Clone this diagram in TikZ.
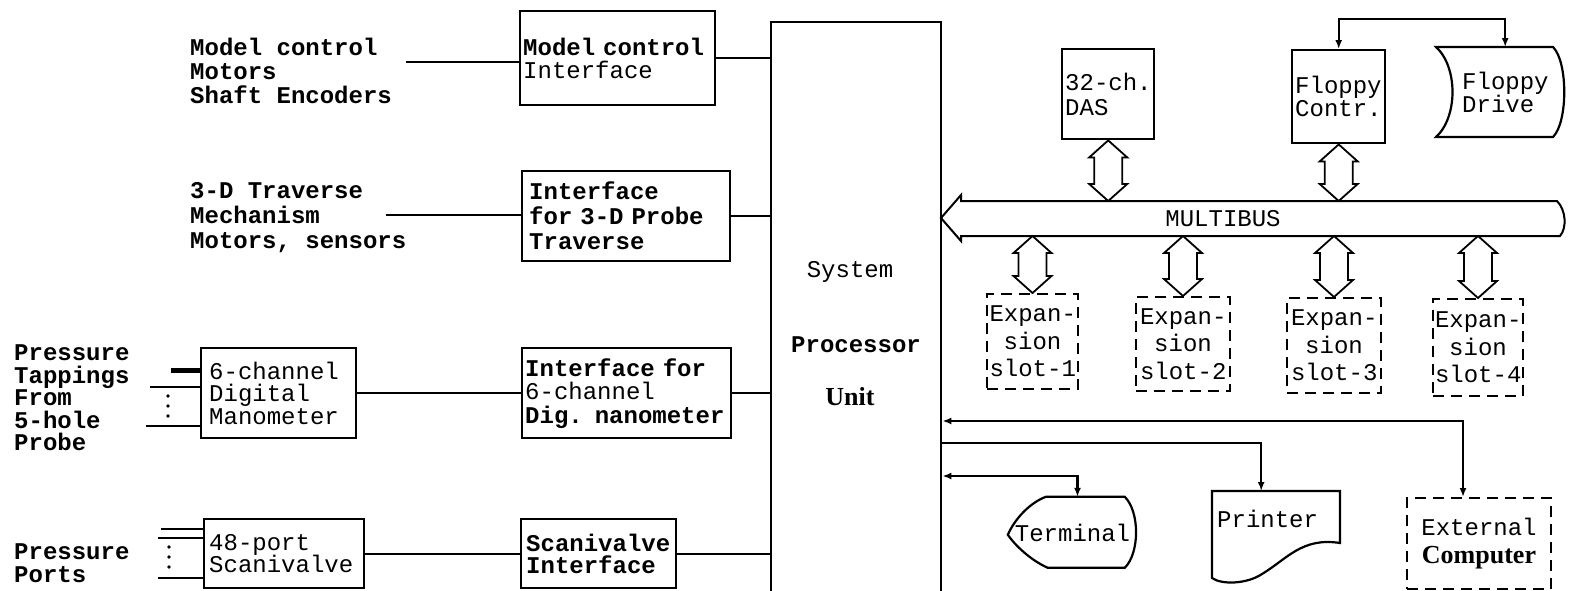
\documentclass[tikz,border=0pt]{standalone}
\usepackage{fontspec}
\setmainfont{Liberation Serif}
\setmonofont{Liberation Mono}
\usetikzlibrary{arrows.meta,calc}

\newcommand{\fsz}[1]{\fontsize{24}{#1}\selectfont}
% hollow double arrow between bus and a box
\newcommand{\dblarr}[2]{%
  \draw[busline] let \p1=(#1), \p2=(#2) in
    (\x1,\y1) -- (\x1+19pt,\y1-17pt) -- (\x1+14pt,\y1-17pt) -- (\x1+14pt,\y2+17pt)
    -- (\x1+19pt,\y2+17pt) -- (\x1,\y2) -- (\x1-19pt,\y2+17pt) -- (\x1-14pt,\y2+17pt)
    -- (\x1-14pt,\y1-17pt) -- (\x1-19pt,\y1-17pt) -- cycle;}

\tikzset{
  wire/.style={line width=2.2pt},
  busline/.style={line width=1.8pt, line join=miter},
  box/.style={draw, line width=2.4pt, anchor=north west, align=left, inner ysep=0pt},
  slotbox/.style={draw, line width=2pt, dash pattern=on 11pt off 7pt, anchor=north west,
    align=center, inner sep=0pt, text width=86pt, font=\ttfamily\fsz{27.5}},
  lbl/.style={anchor=west, align=left, inner sep=0pt},
  >={Latex[length=9pt,width=7pt]},
}

\begin{document}
\begin{tikzpicture}[x=1pt,y=-1pt]
	\useasboundingbox (0,0) rectangle (1570,590);

	% left hand side: sources and interfaces
	\node[lbl, font=\ttfamily\bfseries\fsz{24}] (mctxt) at (190,71) {Model control\\Motors\\Shaft Encoders};
	\node[lbl, font=\ttfamily\bfseries\fsz{25}] (trtxt) at (190,218) {3-D Traverse\\Mechanism\\Motors, sensors};
	\node[lbl, font=\ttfamily\bfseries\fsz{22.5}] (taptxt) at (14,398) {Pressure\\Tappings\\From\\5-hole\\Probe};
	\node[lbl, font=\ttfamily\bfseries\fsz{22.5}] (porttxt) at (14,563) {Pressure\\Ports};

	\node[box, text width=189pt, inner xsep=3pt, minimum height=94pt, font=\ttfamily\fsz{22.5}] (mcif) at (519,10) {{\bfseries Model control}\\Interface};
	\node[box, text width=194pt, inner xsep=7pt, minimum height=90pt, font=\ttfamily\bfseries\fsz{25}] (trif) at (521,170) {Interface\\for 3-D Probe\\Traverse};
	\node[box, text width=139pt, inner xsep=8pt, minimum height=90pt, font=\ttfamily\fsz{22.5}] (dman) at (200,347) {6-channel\\Digital\\Manometer};
	\node[box, text width=203pt, inner xsep=3pt, minimum height=90pt, font=\ttfamily\fsz{23.5}] (dmif) at (521,347) {{\bfseries Interface for}\\6-channel\\{\bfseries Dig. nanometer}};
	\node[box, text width=150pt, inner xsep=5pt, minimum height=69pt, font=\ttfamily\fsz{22.5}] (scv) at (203,518) {48-port\\Scanivalve};
	\node[box, text width=145pt, inner xsep=5pt, minimum height=69pt, font=\ttfamily\bfseries\fsz{22.5}] (scif) at (520,518) {Scanivalve\\Interface};

	% processor unit
	\node[draw, line width=2.4pt, anchor=north west, minimum width=170pt, minimum height=610pt, inner sep=0pt] (proc) at (770,21) {};
	\node[font=\ttfamily\fsz{25}] (sys) at (850,272) {System};
	\node[font=\ttfamily\bfseries\fsz{25}] (prc) at (856,345) {Processor};
	\node[font=\rmfamily\bfseries\fontsize{26}{28}\selectfont] (unit) at (850,397) {Unit};

	% left connectors
	\coordinate (mcend) at (406,62);
	\coordinate (trend) at (386,215);
	\draw[wire] (mcend) -- (mcend -| mcif.west);
	\draw[wire] (trend) -- (trend -| trif.west);
	\draw[wire] (dman.east) -- (dmif.west);
	\draw[wire] (scv.east) -- (scif.west);
	\foreach \b in {mcif,trif,dmif,scif}
		\draw[wire] (\b.east) -- (\b.east -| proc.west);

	\coordinate (tapA) at (171,370);
	\coordinate (tapB) at (150,387);
	\coordinate (tapC) at (146,426);
	\draw[line width=5pt] (tapA) -- (tapA -| dman.west);
	\draw[wire] (tapB) -- (tapB -| dman.west);
	\draw[wire] (tapC) -- (tapC -| dman.west);
	\foreach \y in {396,406,416} \fill (168,\y) circle (1.8);

	\coordinate (portA) at (161,529);
	\coordinate (portB) at (158,538);
	\coordinate (portC) at (158,578);
	\foreach \p in {portA,portB,portC}
		\draw[wire] (\p) -- (\p -| scv.west);
	\foreach \y in {547,557,567} \fill (169,\y) circle (1.8);

	% right hand side: multibus and peripherals
	\node[box, text width=86pt, inner xsep=3pt, minimum height=90pt, font=\ttfamily\fsz{25}] (das) at (1061,48) {32-ch.\\DAS};
	\node[box, text width=87pt, inner xsep=3pt, minimum height=93pt, font=\ttfamily\fsz{23}] (fctl) at (1291,49) {Floppy\\Contr.};
	\node[anchor=north west, inner sep=0pt, minimum width=118pt, minimum height=90pt, text width=86pt, align=left, font=\ttfamily\fsz{23}] (fdrv) at (1446,47) {Floppy\\Drive};
	\begin{scope}[shift={(fdrv.north west)}]
		\draw[wire] (-10,0) -- (107,0) .. controls (122,15) and (122,75) .. (107,90) -- (-10,90) .. controls (12,70) and (12,20) .. cycle;
	\end{scope}
	\coordinate (flop) at (0,19);
	\draw[wire,<->] (fctl.north) -- (fctl.north |- flop) -| (fdrv.north);

	\draw[busline, line width=2pt] (941,218) -- (961,195) -- (961,201) -- (1557,201) .. controls (1566,210) and (1567,228) .. (1560,236) -- (961,236) -- (961,241) -- cycle;
	\node[font=\ttfamily\fsz{25}] (mbus) at (1223,219) {MULTIBUS};
	\coordinate (busN) at (0,201);
	\coordinate (busS) at (0,236);

	\node[slotbox, minimum width=91pt, minimum height=95pt] (s1) at (986,293) {Expan-\\sion\\slot-1};
	\node[slotbox, minimum width=94pt, minimum height=94pt] (s2) at (1135,296) {Expan-\\sion\\slot-2};
	\node[slotbox, minimum width=94pt, minimum height=95pt] (s3) at (1286,297) {Expan-\\sion\\slot-3};
	\node[slotbox, minimum width=90pt, minimum height=97pt] (s4) at (1432,298) {Expan-\\sion\\slot-4};

	\dblarr{das.south}{das.south |- busN}
	\dblarr{fctl.south}{fctl.south |- busN}
	\foreach \s in {s1,s2,s3,s4}
		{\dblarr{\s.north |- busS}{\s.north}}

	\node[inner sep=0pt, minimum width=129pt, minimum height=71pt, font=\ttfamily\fsz{25}] (term) at (1072.5,532.5) {Terminal};
	\begin{scope}[shift={(term.north west)}]
		\draw[wire] (38,0) -- (117,0) .. controls (132,15) and (132,56) .. (117,71) -- (40,71) .. controls (22,63) and (7,48) .. (0,38) .. controls (7,22) and (22,6) .. cycle;
	\end{scope}

	\node[anchor=north west, inner sep=0pt, minimum width=128pt, minimum height=55pt, text width=118pt, align=left, font=\ttfamily\fsz{25}] (prn) at (1212,491) {Printer};
	\begin{scope}[shift={(prn.north west)}]
		\draw[wire] (0,0) -- (128,0) -- (128,52) .. controls (90,46) and (75,68) .. (50,83) .. controls (35,93) and (10,94) .. (0,87) -- cycle;
	\end{scope}

	\node[draw, line width=2pt, dash pattern=on 11pt off 7pt, anchor=north west, inner sep=0pt, minimum width=144pt, minimum height=91pt, text width=144pt, align=center, font=\ttfamily\fsz{28}] (ext) at (1406,497) {External\\{\rmfamily\bfseries\fontsize{26}{28}\selectfont Computer}};

	\coordinate (ln1) at (0,421);
	\coordinate (ln2) at (0,443);
	\coordinate (ln3) at (0,476);
	\draw[wire,<->] ([xshift=-16pt]ext.north) |- (ln1 -| proc.east);
	\draw[wire,->] (ln2 -| proc.east) -| ([xshift=-15pt]prn.north);
	\draw[wire,<->] (ln3 -| proc.east) -| ([xshift=5pt]term.north);
\end{tikzpicture}
\end{document}
